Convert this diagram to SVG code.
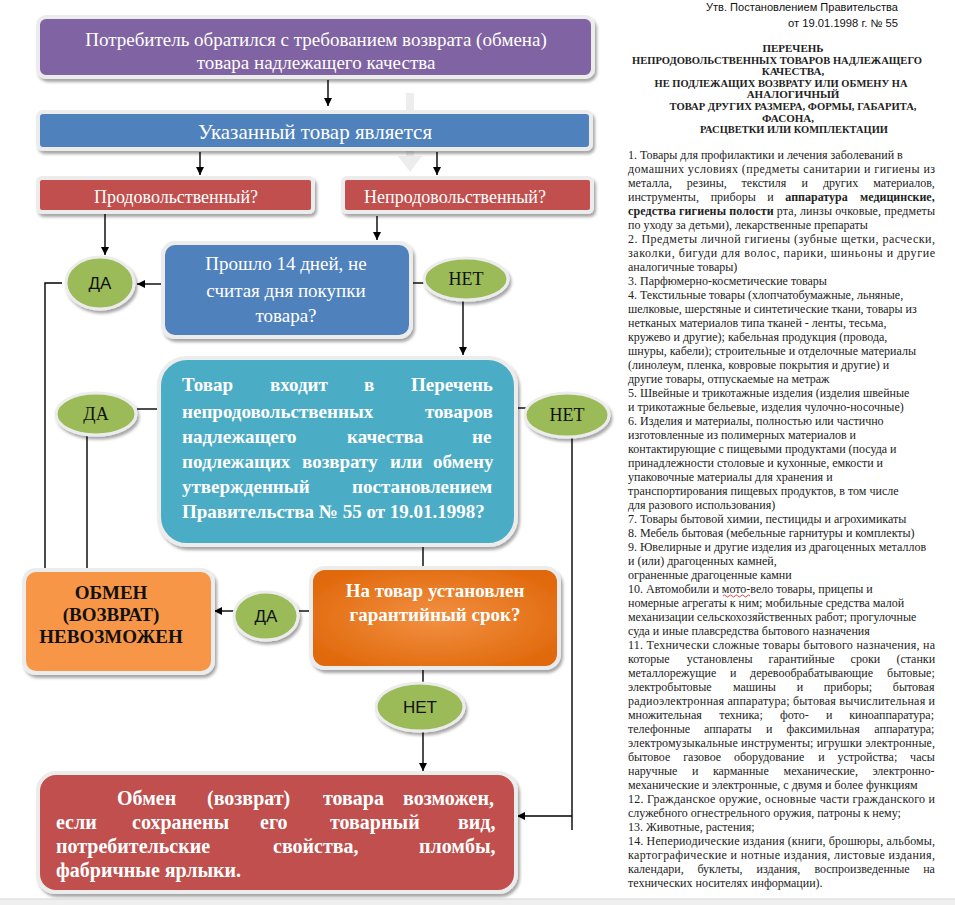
<svg xmlns="http://www.w3.org/2000/svg" width="955" height="905" viewBox="0 0 955 905">
<defs>
<style>
.box{stroke:#ececec;stroke-width:4;filter:url(#sh)}
.ell{fill:#9BBB59;stroke:#ececec;stroke-width:3;filter:url(#sh)}
.ft{font-family:"Liberation Serif","Times New Roman",serif;fill:#fff;font-size:19px}
.fb{font-family:"Liberation Serif","Times New Roman",serif;fill:#fff;font-size:19px;font-weight:bold}
.lbl{font-family:"Liberation Sans",Arial,sans-serif;font-size:17px;fill:#111;text-anchor:middle}
.lbs{font-family:"Liberation Serif","Times New Roman",serif;font-size:18px;fill:#111;text-anchor:middle}
.mid{text-anchor:middle}
.con{stroke:#000;stroke-width:1.4;fill:none}
.arr{marker-end:url(#ah)}
.bt{font-family:"Liberation Serif","Times New Roman",serif;font-size:12px;fill:#222}
.tt{font-family:"Liberation Serif","Times New Roman",serif;font-size:11px;font-weight:bold;fill:#222;text-anchor:middle}
.hd{font-family:"Liberation Sans",Arial,sans-serif;font-size:11px;fill:#111;text-anchor:end}
</style>
<filter id="sh" x="-10%" y="-10%" width="125%" height="140%">
<feDropShadow dx="2" dy="3" stdDeviation="1.5" flood-color="#000" flood-opacity="0.35"/>
</filter>
<marker id="ah" viewBox="0 0 10 10" refX="10" refY="5" markerWidth="9" markerHeight="8" markerUnits="userSpaceOnUse" orient="auto">
<path d="M0,0 L10,5 L0,10 z" fill="#000"/>
</marker>
<radialGradient id="og" cx="50%" cy="50%" r="60%">
<stop offset="0" stop-color="#F29043"/>
<stop offset="1" stop-color="#E0680A"/>
</radialGradient>
</defs>
<rect width="955" height="905" fill="#fff"/>
<!-- faint background arrow -->
<polygon points="406,93 414,93 414,156 422,156 410,172 398,156 406,156" fill="#ededed"/>

<g id="connectors">
<line class="con arr" x1="328" y1="80" x2="328" y2="106"/>
<line class="con arr" x1="200" y1="152" x2="200" y2="175"/>
<line class="con arr" x1="437" y1="152" x2="437" y2="175"/>
<line class="con arr" x1="105" y1="214" x2="105" y2="255"/>
<line class="con arr" x1="377" y1="216" x2="377" y2="240"/>
<line class="con arr" x1="163" y1="284" x2="137" y2="284"/>
<line class="con" x1="411" y1="283" x2="424" y2="283"/>
<line class="con arr" x1="463" y1="300" x2="463" y2="355"/>
<polyline class="con" points="62,283 45,283 45,568"/>
<line class="con" x1="137" y1="409" x2="157" y2="409"/>
<line class="con" x1="516" y1="408" x2="526" y2="408"/>
<line class="con" x1="87" y1="435" x2="87" y2="568"/>
<line class="con" x1="572" y1="437" x2="572" y2="830"/>
<line class="con arr" x1="572" y1="816" x2="517" y2="816"/>
<line class="con" x1="423" y1="546" x2="423" y2="567"/>
<line class="con" x1="311" y1="611" x2="299" y2="611"/>
<line class="con arr" x1="234" y1="611" x2="214" y2="611"/>
<line class="con" x1="423" y1="669" x2="423" y2="682"/>
<line class="con arr" x1="423" y1="732" x2="423" y2="771"/>
</g>

<g id="n1">
<rect class="box" x="38" y="17" width="555" height="60" rx="8" fill="#8064A2"/>
<text class="ft mid" x="316" y="46">Потребитель обратился с требованием возврата (обмена)</text>
<text class="ft mid" x="316" y="69">товара надлежащего качества</text>
</g>
<g id="n2">
<rect class="box" x="38" y="112" width="553" height="37" rx="5" fill="#4F81BD"/>
<text class="ft mid" x="315" y="139" style="font-size:21px">Указанный товар является</text>
</g>
<g id="n3">
<rect class="box" x="38" y="178" width="275" height="34" rx="4" fill="#C0504D"/>
<text class="ft mid" x="176" y="203" style="font-size:18px">Продовольственный?</text>
</g>
<g id="n4">
<rect class="box" x="343" y="178" width="249" height="34" rx="4" fill="#C0504D"/>
<text class="ft mid" x="455" y="203" style="font-size:18px">Непродовольственный?</text>
</g>
<g id="n5">
<rect class="box" x="163" y="243" width="248" height="94" rx="12" fill="#4F81BD"/>
<text class="ft mid" x="286" y="270">Прошло 14 дней, не</text>
<text class="ft mid" x="286" y="297">считая дня покупки</text>
<text class="ft mid" x="286" y="322">товара?</text>
</g>
<g id="n6">
<rect class="box" x="159" y="358" width="357" height="187" rx="28" fill="#4BACC6"/>
<text class="fb" y="391"><tspan x="182">Товар</tspan><tspan x="270">входит</tspan><tspan x="364">в</tspan><tspan x="411">Перечень</tspan></text>
<text class="fb" y="418"><tspan x="182">непродовольственных</tspan><tspan x="425">товаров</tspan></text>
<text class="fb" y="443"><tspan x="182">надлежащего</tspan><tspan x="347">качества</tspan><tspan x="472">не</tspan></text>
<text class="fb" y="468"><tspan x="182">подлежащих</tspan><tspan x="302">возврату</tspan><tspan x="390">или</tspan><tspan x="433">обмену</tspan></text>
<text class="fb" y="493"><tspan x="182">утвержденный</tspan><tspan x="352">постановлением</tspan></text>
<text class="fb" y="518" x="182">Правительства № 55 от 19.01.1998?</text>
</g>
<g id="n7">
<rect class="box" x="24" y="570" width="189" height="103" rx="12" fill="#F79646"/>
<text class="fb mid" x="111" y="599" style="fill:#111">ОБМЕН</text>
<text class="fb mid" x="111" y="621" style="fill:#111">(ВОЗВРАТ)</text>
<text class="fb mid" x="111" y="643" style="fill:#111">НЕВОЗМОЖЕН</text>
</g>
<g id="n8">
<rect class="box" x="311" y="568" width="248" height="100" rx="14" fill="url(#og)"/>
<text class="fb mid" x="435" y="597">На товар установлен</text>
<text class="fb mid" x="435" y="621">гарантийный срок?</text>
</g>
<g id="n9">
<rect class="box" x="38" y="773" width="478" height="119" rx="18" fill="#C0504D"/>
<text class="fb" y="805" style="font-size:20px"><tspan x="117">Обмен</tspan><tspan x="207">(возврат)</tspan><tspan x="323">товара</tspan><tspan x="403">возможен,</tspan></text>
<text class="fb" y="829" style="font-size:20px"><tspan x="56">если</tspan><tspan x="132">сохранены</tspan><tspan x="260">его</tspan><tspan x="330">товарный</tspan><tspan x="458">вид,</tspan></text>
<text class="fb" y="853" style="font-size:20px"><tspan x="56">потребительские</tspan><tspan x="273">свойства,</tspan><tspan x="419">пломбы,</tspan></text>
<text class="fb" y="877" x="56" style="font-size:20px">фабричные ярлыки.</text>
</g>

<g id="e1"><ellipse class="ell" cx="100" cy="283" rx="34" ry="26"/><text class="lbl" x="100" y="289">ДА</text></g>
<g id="e2"><ellipse class="ell" cx="466" cy="279" rx="42" ry="21"/><text class="lbs" x="466" y="285">НЕТ</text></g>
<g id="e3"><ellipse class="ell" cx="96" cy="414" rx="40" ry="21"/><text class="lbs" x="96" y="420">ДА</text></g>
<g id="e4"><ellipse class="ell" cx="567" cy="415" rx="42" ry="22"/><text class="lbs" x="567" y="421">НЕТ</text></g>
<g id="e5"><ellipse class="ell" cx="266" cy="616" rx="32" ry="24"/><text class="lbl" x="266" y="622">ДА</text></g>
<g id="e6"><ellipse class="ell" cx="420" cy="707" rx="44" ry="24"/><text class="lbl" x="420" y="713">НЕТ</text></g>

<g id="list">
<text class="hd" x="898" y="11" textLength="192" lengthAdjust="spacingAndGlyphs">Утв. Постановлением Правительства</text>
<text class="hd" x="898" y="27" textLength="110" lengthAdjust="spacingAndGlyphs">от 19.01.1998 г. № 55</text>
<text class="tt" x="793" y="52">ПЕРЕЧЕНЬ</text>
<text class="tt" x="777" y="64" textLength="290" lengthAdjust="spacingAndGlyphs">НЕПРОДОВОЛЬСТВЕННЫХ ТОВАРОВ НАДЛЕЖАЩЕГО</text>
<text class="tt" x="793" y="75">КАЧЕСТВА,</text>
<text class="tt" x="781" y="87" textLength="253" lengthAdjust="spacingAndGlyphs">НЕ ПОДЛЕЖАЩИХ ВОЗВРАТУ ИЛИ ОБМЕНУ НА</text>
<text class="tt" x="793" y="98">АНАЛОГИЧНЫЙ</text>
<text class="tt" x="793" y="110" textLength="247" lengthAdjust="spacingAndGlyphs">ТОВАР ДРУГИХ РАЗМЕРА, ФОРМЫ, ГАБАРИТА,</text>
<text class="tt" x="788" y="122">ФАСОНА,</text>
<text class="tt" x="794" y="133" textLength="188" lengthAdjust="spacingAndGlyphs">РАСЦВЕТКИ ИЛИ КОМПЛЕКТАЦИИ</text>

<text class="bt" x="628" y="159">1. Товары для профилактики и лечения заболеваний в</text>
<text class="bt" x="628" y="173" textLength="307" lengthAdjust="spacing">домашних условиях (предметы санитарии и гигиены из</text>
<text class="bt" y="187"><tspan x="628">металла,</tspan><tspan x="686.7">резины,</tspan><tspan x="741.6">текстиля</tspan><tspan x="801.6">и</tspan><tspan x="822.9">других</tspan><tspan x="873.2">материалов,</tspan></text>
<text class="bt" y="201"><tspan x="628">инструменты,</tspan><tspan x="710.7">приборы</tspan><tspan x="767.3">и</tspan><tspan x="785.3" font-weight="bold">аппаратура</tspan><tspan x="860.1" font-weight="bold">медицинские,</tspan></text>
<text class="bt" x="628" y="215" textLength="307" lengthAdjust="spacing"><tspan font-weight="bold">средства гигиены полости</tspan> рта, линзы очковые, предметы</text>
<text class="bt" x="628" y="229">по уходу за детьми), лекарственные препараты</text>
<text class="bt" x="628" y="243" textLength="307" lengthAdjust="spacing">2. Предметы личной гигиены (зубные щетки, расчески,</text>
<text class="bt" x="628" y="257" textLength="307" lengthAdjust="spacing">заколки, бигуди для волос, парики, шиньоны и другие</text>
<text class="bt" x="628" y="271">аналогичные товары)</text>
<text class="bt" x="628" y="285">3. Парфюмерно-косметические товары</text>
<text class="bt" x="628" y="299">4. Текстильные товары (хлопчатобумажные, льняные,</text>
<text class="bt" x="628" y="313">шелковые, шерстяные и синтетические ткани, товары из</text>
<text class="bt" x="628" y="327">нетканых материалов типа тканей - ленты, тесьма,</text>
<text class="bt" x="628" y="341">кружево и другие); кабельная продукция (провода,</text>
<text class="bt" x="628" y="355">шнуры, кабели); строительные и отделочные материалы</text>
<text class="bt" x="628" y="369">(линолеум, пленка, ковровые покрытия и другие) и</text>
<text class="bt" x="628" y="383">другие товары, отпускаемые на метраж</text>
<text class="bt" x="628" y="397">5. Швейные и трикотажные изделия (изделия швейные</text>
<text class="bt" x="628" y="411">и трикотажные бельевые, изделия чулочно-носочные)</text>
<text class="bt" x="628" y="425">6. Изделия и материалы, полностью или частично</text>
<text class="bt" x="628" y="439">изготовленные из полимерных материалов и</text>
<text class="bt" x="628" y="453">контактирующие с пищевыми продуктами (посуда и</text>
<text class="bt" x="628" y="467">принадлежности столовые и кухонные, емкости и</text>
<text class="bt" x="628" y="481">упаковочные материалы для хранения и</text>
<text class="bt" x="628" y="495">транспортирования пищевых продуктов, в том числе</text>
<text class="bt" x="628" y="509">для разового использования)</text>
<text class="bt" x="628" y="523">7. Товары бытовой химии, пестициды и агрохимикаты</text>
<text class="bt" x="628" y="537">8. Мебель бытовая (мебельные гарнитуры и комплекты)</text>
<text class="bt" x="628" y="551">9. Ювелирные и другие изделия из драгоценных металлов</text>
<text class="bt" x="628" y="565">и (или) драгоценных камней,</text>
<text class="bt" x="628" y="579">ограненные драгоценные камни</text>
<text class="bt" x="628" y="593">10. Автомобили и мото-вело товары, прицепы и</text>
<path d="M723,596 q1.5,-2 3,0 t3,0 t3,0 t3,0 t3,0 t3,0 t3,0 t3,0 t3,0" stroke="#d02020" stroke-width="0.8" fill="none"/>
<text class="bt" x="628" y="607">номерные агрегаты к ним; мобильные средства малой</text>
<text class="bt" x="628" y="621">механизации сельскохозяйственных работ; прогулочные</text>
<text class="bt" x="628" y="635">суда и иные плавсредства бытового назначения</text>
<text class="bt" x="628" y="649" textLength="307" lengthAdjust="spacing">11. Технически сложные товары бытового назначения, на</text>
<text class="bt" y="663"><tspan x="628">которые</tspan><tspan x="686.7">установлены</tspan><tspan x="768.6">гарантийные</tspan><tspan x="850.6">сроки</tspan><tspan x="896.4">(станки</tspan></text>
<text class="bt" y="677"><tspan x="628">металлорежущие</tspan><tspan x="729.9">и</tspan><tspan x="750.1">деревообрабатывающие</tspan><tspan x="887.1">бытовые;</tspan></text>
<text class="bt" y="691"><tspan x="628">электробытовые</tspan><tspan x="732.9">машины</tspan><tspan x="796.7">и</tspan><tspan x="823.8">приборы;</tspan><tspan x="892.8">бытовая</tspan></text>
<text class="bt" x="628" y="705" textLength="307" lengthAdjust="spacing">радиоэлектронная аппаратура; бытовая вычислительная и</text>
<text class="bt" y="719"><tspan x="628">множительная</tspan><tspan x="719.2">техника;</tspan><tspan x="780">фото-</tspan><tspan x="825.9">и</tspan><tspan x="849.2">киноаппаратура;</tspan></text>
<text class="bt" y="733"><tspan x="628">телефонные</tspan><tspan x="704">аппараты</tspan><tspan x="766.1">и</tspan><tspan x="786.6">факсимильная</tspan><tspan x="874.3">аппаратура;</tspan></text>
<text class="bt" x="628" y="747" textLength="307" lengthAdjust="spacing">электромузыкальные инструменты; игрушки электронные,</text>
<text class="bt" y="761"><tspan x="628">бытовое</tspan><tspan x="683.2">газовое</tspan><tspan x="734">оборудование</tspan><tspan x="818.2">и</tspan><tspan x="837.4">устройства;</tspan><tspan x="910.1">часы</tspan></text>
<text class="bt" y="775"><tspan x="628">наручные</tspan><tspan x="692">и</tspan><tspan x="712.9">карманные</tspan><tspan x="783.6">механические,</tspan><tspan x="872.4">электронно-</tspan></text>
<text class="bt" x="628" y="789">механические и электронные, с двумя и более функциям</text>
<text class="bt" x="628" y="803" textLength="307" lengthAdjust="spacing">12. Гражданское оружие, основные части гражданского и</text>
<text class="bt" x="628" y="817">служебного огнестрельного оружия, патроны к нему;</text>
<text class="bt" x="628" y="831">13. Животные, растения;</text>
<text class="bt" x="628" y="845" textLength="307" lengthAdjust="spacing">14. Непериодические издания (книги, брошюры, альбомы,</text>
<text class="bt" x="628" y="859" textLength="307" lengthAdjust="spacing">картографические и нотные издания, листовые издания,</text>
<text class="bt" y="873"><tspan x="628">календари,</tspan><tspan x="697.4">буклеты,</tspan><tspan x="756.6">издания,</tspan><tspan x="814.4">воспроизведенные</tspan><tspan x="923.2">на</tspan></text>
<text class="bt" x="628" y="887">технических носителях информации).</text>
</g>
<rect x="0" y="899" width="955" height="6" fill="#efefef"/>
<line x1="0" y1="899" x2="955" y2="899" stroke="#d6d6d6" stroke-width="1"/>
</svg>
